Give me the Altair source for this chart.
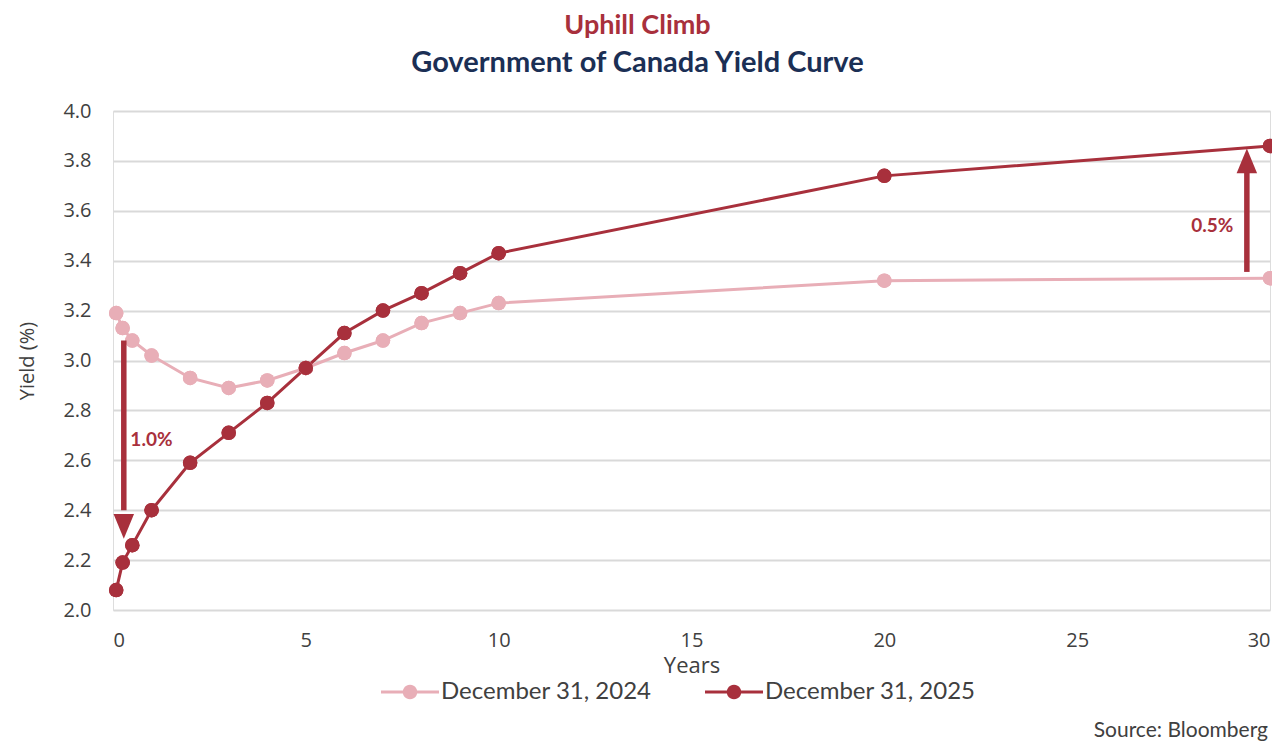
import math
import altair as alt
import pandas as pd

# ---- data ----
tenors = [0.083, 0.25, 0.5, 1, 2, 3, 4, 5, 6, 7, 8, 9, 10, 20, 30]
yield_2024 = [3.19, 3.13, 3.08, 3.02, 2.93, 2.89, 2.92, 2.97, 3.03, 3.08, 3.15, 3.19, 3.23, 3.32, 3.33]
yield_2025 = [2.08, 2.19, 2.26, 2.40, 2.59, 2.71, 2.83, 2.97, 3.11, 3.20, 3.27, 3.35, 3.43, 3.74, 3.86]
series_names = ["December 31, 2024", "December 31, 2025"]
series_colors = ["#E8AEB7", "#A8303C"]

# annotation arrows (data units)
arrow_x = [0.28, 29.4]
arrow_from = [3.08, 3.355]
arrow_to = [2.40, 3.76]
arrow_head = [2.335, 3.80]
arrow_shape = ["M-1,-1.2L1,-1.2L0,1.2Z", "M-1,1.2L1,1.2L0,-1.2Z"]
label_x = [0.45, 29.05]
label_y = [2.68, 3.54]
label_text = ["1.0%", "0.5%"]
label_align = ["left", "right"]
source_text = ["Source: Bloomberg"]

TITLE_RED = "#A8303C"
NAVY = "#1B2F55"
TEXT = "#404040"
GRID = "#D9D9D9"

rows = []
for name, ys in zip(series_names, [yield_2024, yield_2025]):
    for t, y in zip(tenors, ys):
        rows.append({"Tenor": t, "Yield": y, "Series": name})
df = pd.DataFrame(rows)

# legend symbol: a line segment with a dot in the middle
r = 0.25
circle_pts = ["%.3f,%.3f" % (r * math.cos(2 * math.pi * k / 24), r * math.sin(2 * math.pi * k / 24))
              for k in range(24)]
legend_symbol = "M-1,-0.05L1,-0.05L1,0.05L-1,0.05Z M" + " L".join(circle_pts) + " Z"

xscale = alt.Scale(domain=[0, 30], nice=False, zero=False)
yscale = alt.Scale(domain=[2.0, 4.0], nice=False, zero=False)
color = alt.Color(
    "Series:N",
    scale=alt.Scale(domain=series_names, range=series_colors),
    legend=alt.Legend(
        title=None,
        orient="none",
        legendX=268,
        legendY=552,
        direction="horizontal",
        symbolType=legend_symbol,
        symbolSize=3364,
        symbolStrokeWidth=0,
        symbolOpacity=1,
        labelFont="Lato",
        labelFontSize=24,
        labelColor=TEXT,
        labelOffset=2,
        labelLimit=400,
        columnPadding=53,
    ),
)

x = alt.X("Tenor:Q", scale=xscale,
          axis=alt.Axis(title="Years", values=[0, 5, 10, 15, 20, 25, 30], grid=False,
                        domain=False, ticks=False, labelPadding=20,
                        labelFont="Open Sans", labelFontSize=20, labelColor=TEXT,
                        titleFont="Open Sans", titleFontSize=22, titleFontWeight="normal",
                        titleColor=TEXT, titlePadding=5))
y = alt.Y("Yield:Q", scale=yscale,
          axis=alt.Axis(title="Yield (%)", values=[2.0, 2.2, 2.4, 2.6, 2.8, 3.0, 3.2, 3.4, 3.6, 3.8, 4.0],
                        format=".1f", grid=True, gridColor=GRID, gridWidth=2,
                        domain=False, ticks=False, labelPadding=22,
                        labelFont="Open Sans", labelFontSize=20, labelColor=TEXT,
                        titleFont="Open Sans", titleFontSize=20, titleFontWeight="normal",
                        titleColor=TEXT, titlePadding=25))

# legend-bearing point layer (drawn first, underneath)
points_legend = alt.Chart(df).mark_circle(size=210, opacity=1).encode(x=x, y=y, color=color)

series_layers = []
for name, col in zip(series_names, series_colors):
    sub = df[df.Series == name]
    series_layers.append(
        alt.Chart(sub).mark_line(strokeWidth=3, color=col).encode(
            x=alt.X("Tenor:Q", scale=xscale), y=alt.Y("Yield:Q", scale=yscale), order="Tenor:Q"))
for name, col in zip(series_names, series_colors):
    sub = df[df.Series == name]
    series_layers.append(
        alt.Chart(sub).mark_circle(size=210, color=col, opacity=1).encode(
            x=alt.X("Tenor:Q", scale=xscale), y=alt.Y("Yield:Q", scale=yscale)))

adf = pd.DataFrame({"x": arrow_x, "y1": arrow_from, "y2": arrow_to, "yh": arrow_head,
                    "shape": arrow_shape})
shafts = alt.Chart(adf).mark_rule(color=TITLE_RED, strokeWidth=5.5).encode(
    x=alt.X("x:Q", scale=xscale), y=alt.Y("y1:Q", scale=yscale), y2="y2:Q")
heads = alt.Chart(adf).mark_point(filled=True, color=TITLE_RED, opacity=1, size=420).encode(
    x=alt.X("x:Q", scale=xscale), y=alt.Y("yh:Q", scale=yscale),
    shape=alt.Shape("shape:N", scale=None, legend=None))

ldf = pd.DataFrame({"x": label_x, "y": label_y, "t": label_text, "a": label_align})
lab_left = alt.Chart(ldf[ldf.a == "left"]).mark_text(
    align="left", baseline="middle", font="Lato", fontWeight="bold", fontSize=19,
    color=TITLE_RED).encode(x=alt.X("x:Q", scale=xscale), y=alt.Y("y:Q", scale=yscale), text="t:N")
lab_right = alt.Chart(ldf[ldf.a == "right"]).mark_text(
    align="right", baseline="middle", font="Lato", fontWeight="bold", fontSize=19,
    color=TITLE_RED).encode(x=alt.X("x:Q", scale=xscale), y=alt.Y("y:Q", scale=yscale), text="t:N")

src = alt.Chart(pd.DataFrame({"t": source_text})).mark_text(
    align="right", baseline="middle", font="Lato", fontSize=21, color=TEXT).encode(
    x=alt.value(1155), y=alt.value(620), text="t:N")

chart = alt.layer(points_legend, *series_layers, shafts, heads, lab_left, lab_right, src).properties(
    width=1157, height=499,
    title=alt.TitleParams(
        text="Uphill Climb",
        subtitle="Government of Canada Yield Curve",
        anchor="middle", dx=-54,
        font="Lato", fontSize=27, fontWeight="bold", color=TITLE_RED,
        subtitleFont="Lato", subtitleFontSize=29, subtitleFontWeight="bold",
        subtitleColor=NAVY, subtitlePadding=9, offset=22,
    ),
    autosize=alt.AutoSizeParams(type="none"),
    padding={"left": 105, "top": 103, "right": 2, "bottom": 134},
).configure_view(stroke=GRID, strokeWidth=2).configure(background="white")

chart.save("out.html", embed_options={"renderer": "svg", "actions": False})
